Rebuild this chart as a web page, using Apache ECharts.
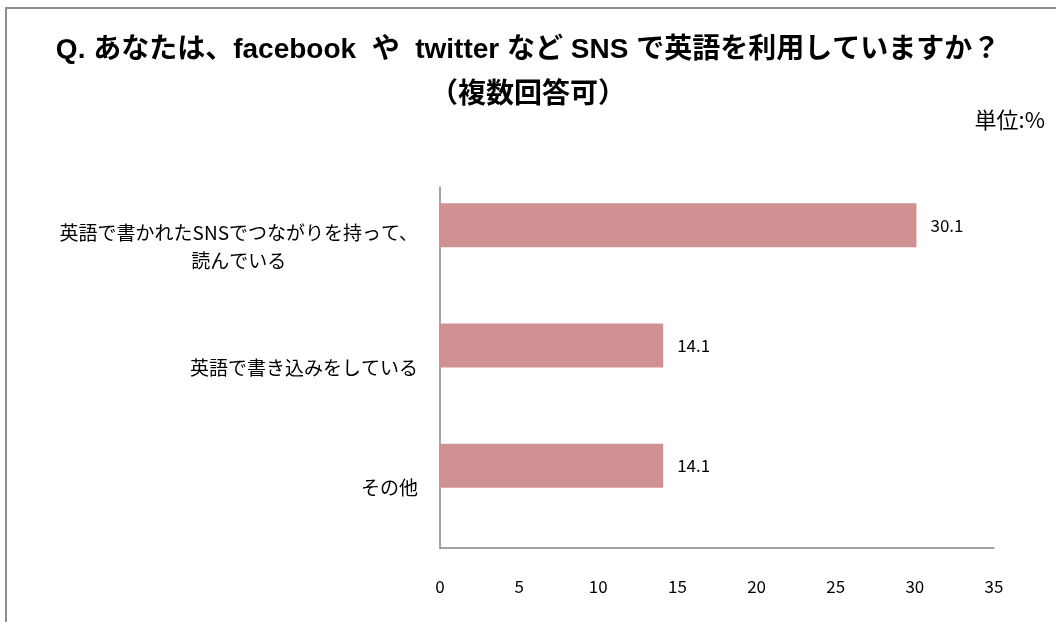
<!DOCTYPE html>
<html>
<head>
<meta charset="utf-8">
<script src="https://cdn.jsdelivr.net/npm/echarts@6/dist/echarts.min.js"></script>
<style>
  html, body { margin: 0; padding: 0; background: #fff; }
  #chart { width: 1056px; height: 622px; }
</style>
</head>
<body>
<div id="chart"></div>
<script>
// データ
let categories = ['英語で書かれたSNSでつながりを持って、\n読んでいる', '英語で書き込みをしている', 'その他']
let values = [30.1, 14.1, 14.1]
// Excelの空の系列（棒を上にずらすため）
let blank = [null, null, null]
let xTicks = [0, 5, 10, 15, 20, 25, 30, 35]

let titleLine1 = 'Q. あなたは、facebook  や  twitter など SNS で英語を利用していますか？'
let titleLine2 = '（複数回答可）'
let unitText = '単位:%'

let labelFont = "'Noto Sans CJK JP', sans-serif"
let titleFont = "'Liberation Sans', 'Noto Sans CJK JP', sans-serif"
let axisColor = '#868686'

let titleStyle = {
  fontFamily: titleFont,
  fontWeight: 'bold',
  fontSize: 28,
  lineHeight: 30,
  color: '#000'
}

let chart = echarts.init(document.getElementById('chart'))
let option = {
  animation: false,
  title: [
    {text: titleLine1, left: 'center', top: 35, padding: 0, textStyle: titleStyle},
    {text: titleLine2, left: 'center', top: 80, padding: 0, textStyle: titleStyle}
  ],
  graphic: [
    {
      type: 'polyline',
      shape: {points: [[6, 622], [6, 8], [1056, 8]]},
      style: {stroke: '#8c8c8c', lineWidth: 2, fill: null}
    },
    {
      type: 'text',
      right: 11,
      top: 109,
      style: {text: unitText, font: "22px 'Noto Sans CJK JP'", fill: '#000'}
    }
  ],
  grid: {left: 440, top: 187, right: 62, bottom: 74},
  xAxis: {
    type: 'value',
    min: xTicks[0],
    max: xTicks[xTicks.length - 1],
    interval: xTicks[1] - xTicks[0],
    axisLine: {show: true, lineStyle: {color: axisColor, width: 1.5}},
    axisTick: {show: false},
    splitLine: {show: false},
    axisLabel: {margin: 30, fontFamily: labelFont, fontSize: 17, color: '#000'}
  },
  yAxis: {
    type: 'category',
    inverse: true,
    data: categories,
    axisLine: {show: true, lineStyle: {color: axisColor, width: 1.5}},
    axisTick: {show: false},
    axisLabel: {
      margin: 22,
      color: '#000',
      fontFamily: labelFont,
      fontSize: 19,
      lineHeight: 28,
      formatter: function (v) {
        return v.split('\n').map(s => '{c|' + s + '}').join('\n')
      },
      rich: {c: {align: 'center', fontFamily: labelFont, fontSize: 19, lineHeight: 28, color: '#000'}}
    }
  },
  series: [
    {
      type: 'bar',
      data: values,
      barWidth: 44,
      barGap: '0%',
      itemStyle: {color: '#d09192'},
      label: {
        show: true,
        position: 'right',
        distance: 14,
        fontFamily: labelFont,
        fontSize: 17,
        color: '#000'
      }
    },
    {
      type: 'bar',
      data: blank,
      barWidth: 44,
      barGap: '0%'
    }
  ]
}
chart.setOption(option)
</script>
</body>
</html>
